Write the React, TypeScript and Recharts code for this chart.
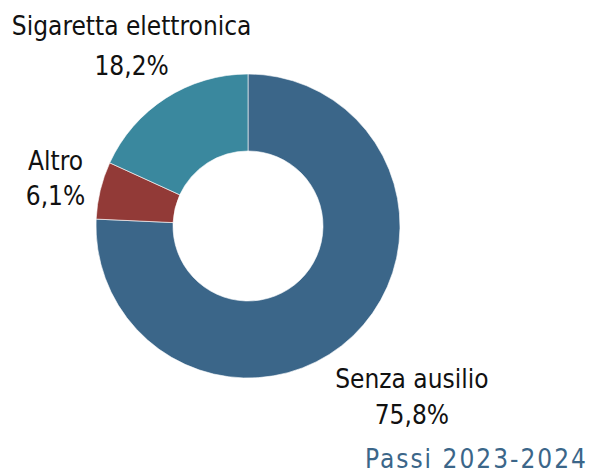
import React from "react";
import { PieChart, Pie, Cell } from "recharts";

const categories = ["Senza ausilio", "Altro", "Sigaretta elettronica"];
const values = [75.8, 6.1, 18.2];
const valueLabels = ["75,8%", "6,1%", "18,2%"];
const colors = ["#3B6689", "#923A37", "#3A889E"];

const data = categories.map((name, i) => ({ name, value: values[i], label: valueLabels[i] }));

const RAD = Math.PI / 180;
const labelExtra = [91, 44, 54];
const labelShift = [[-4, 4], [-2, 8], [-5, 2]];
const lineGap = [36, 35, 40];

const FONT = "'DejaVu Sans Condensed', 'Liberation Sans Narrow', sans-serif";

const renderLabel = (props: any) => {
  const { cx, cy, midAngle, outerRadius, index } = props;
  const r = outerRadius + labelExtra[index];
  const x = cx + r * Math.cos(-midAngle * RAD) + labelShift[index][0];
  const y = cy + r * Math.sin(-midAngle * RAD) + labelShift[index][1];
  const d = data[index];
  const gap = lineGap[index];
  return (
    <text x={x} y={y - gap / 2} textAnchor="middle" fontFamily={FONT} fontSize={26} fill="#111">
      <tspan x={x}>{d.name}</tspan>
      <tspan x={x} dy={gap}>{d.label}</tspan>
    </text>
  );
};

export default function App() {
  return (
    <div style={{ position: "absolute", left: 0, top: 0, width: 607, height: 473, background: "#fff" }}>
      <PieChart width={607} height={473} margin={{ top: 0, right: 0, bottom: 0, left: 0 }}>
        <Pie
          data={data}
          dataKey="value"
          nameKey="name"
          cx={248}
          cy={226}
          outerRadius={152}
          innerRadius={75}
          startAngle={90}
          endAngle={-270}
          stroke="#ffffff"
          strokeWidth={0.6}
          label={renderLabel}
          labelLine={false}
          isAnimationActive={false}
        >
          {data.map((d, i) => (
            <Cell key={d.name} fill={colors[i]} />
          ))}
        </Pie>
        <text x={588} y={468} textAnchor="end" fontFamily={FONT} fontSize={26} letterSpacing={2} fill="#3B6689">
          Passi 2023-2024
        </text>
      </PieChart>
    </div>
  );
}
